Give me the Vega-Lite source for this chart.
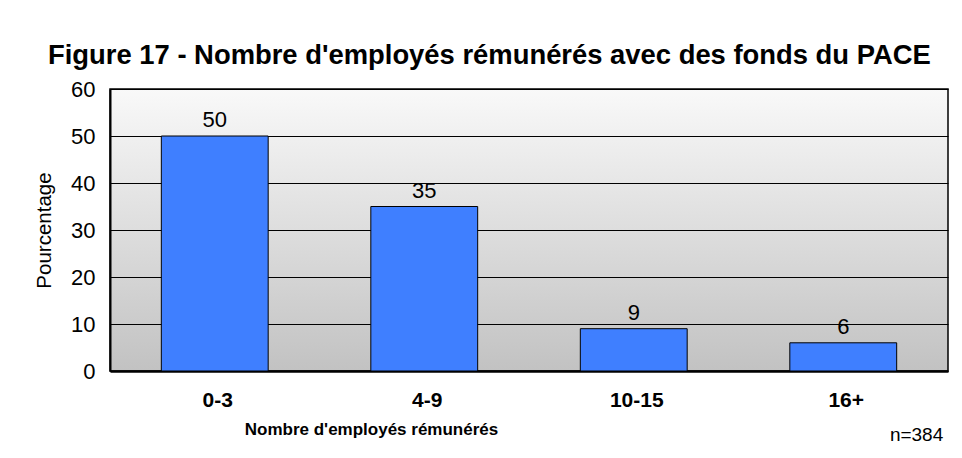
{
  "$schema": "https://vega.github.io/schema/vega-lite/v6.json",
  "width": 838,
  "height": 282,
  "autosize": {"type": "none"},
  "padding": {"left": 110, "top": 89, "right": 14, "bottom": 87},
  "background": "white",
  "title": {
    "text": "Figure 17 - Nombre d'employés rémunérés avec des fonds du PACE",
    "anchor": "start",
    "frame": "group",
    "dx": -62,
    "offset": -13,
    "baseline": "alphabetic",
    "font": "Liberation Sans",
    "fontSize": 27.4,
    "fontWeight": "bold",
    "color": "#000000"
  },
  "config": {
    "view": {
      "fill": {"gradient": "linear", "x1": 0, "y1": 0, "x2": 0, "y2": 1, "stops": [{"offset": 0, "color": "#f9f9f9"}, {"offset": 1, "color": "#c2c2c2"}]},
      "stroke": "#000000",
      "strokeWidth": 1.5
    },
    "font": "Liberation Sans"
  },
  "data": {
    "values": [
      {"groupe": "0-3", "pct": 50},
      {"groupe": "4-9", "pct": 35},
      {"groupe": "10-15", "pct": 9},
      {"groupe": "16+", "pct": 6}
    ]
  },
  "encoding": {
    "x": {
      "field": "groupe",
      "type": "nominal",
      "sort": null,
      "scale": {"paddingInner": 0.49, "paddingOuter": 0.245},
      "axis": {
        "title": "Nombre d'employés rémunérés",
        "titleFont": "Liberation Sans",
        "titleFontSize": 17,
        "titleFontWeight": "bold",
        "titleColor": "#000000",
        "titleX": 261,
        "titleY": 63,
        "titleAlign": "center",
        "titleBaseline": "alphabetic",
        "labelAngle": 0,
        "labelFont": "Liberation Sans",
        "labelFontSize": 21,
        "labelFontWeight": "bold",
        "labelColor": "#000000",
        "labelPadding": 18,
        "labelOffset": 3,
        "ticks": false,
        "domainColor": "#000000",
        "domainWidth": 2.5,
        "grid": false
      }
    }
  },
  "layer": [
    {
      "mark": {"type": "bar", "color": "#3f7fff", "stroke": "#000000", "strokeWidth": 1},
      "encoding": {
        "y": {
          "field": "pct",
          "type": "quantitative",
          "scale": {"domain": [0, 60], "nice": false},
          "axis": {
            "title": "Pourcentage",
            "titleFont": "Liberation Sans",
            "titleFontSize": 20.5,
            "titleFontWeight": "normal",
            "titleColor": "#000000",
            "titlePadding": 16,
            "values": [0, 10, 20, 30, 40, 50, 60],
            "labelFont": "Liberation Sans",
            "labelFontSize": 22,
            "labelColor": "#000000",
            "labelPadding": 15,
            "ticks": false,
            "domain": true,
            "domainColor": "#000000",
            "domainWidth": 2,
            "grid": true,
            "gridColor": "#000000",
            "gridWidth": 1,
            "gridOpacity": 1
          }
        }
      }
    },
    {
      "mark": {"type": "text", "baseline": "alphabetic", "dy": -9, "font": "Liberation Sans", "fontSize": 22, "color": "#000000"},
      "encoding": {
        "y": {"field": "pct", "type": "quantitative"},
        "text": {"field": "pct", "type": "quantitative"}
      }
    },
    {
      "data": {"values": [{"groupe": "16+", "note": "n=384"}]},
      "mark": {"type": "text", "align": "right", "baseline": "alphabetic", "dx": 100, "dy": 70, "font": "Liberation Sans", "fontSize": 19, "color": "#000000"},
      "encoding": {
        "y": {"datum": 0, "type": "quantitative"},
        "text": {"field": "note"}
      }
    }
  ]
}
